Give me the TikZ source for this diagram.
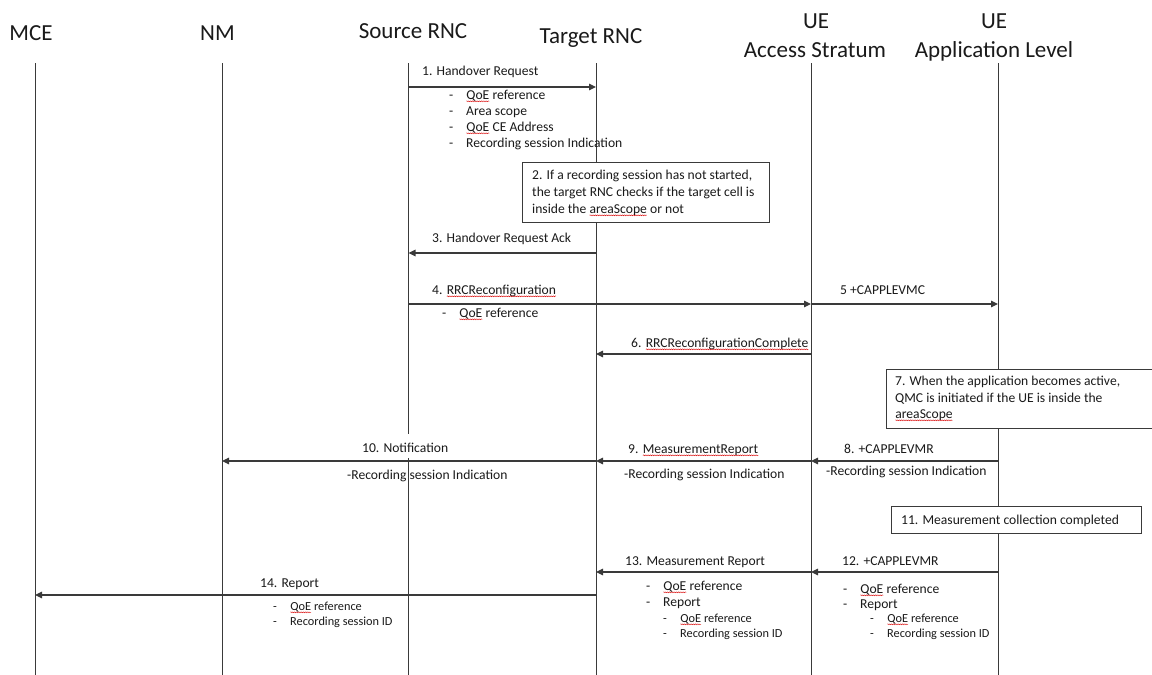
\documentclass[tikz,border=0pt]{standalone}
\usepackage{fontspec}
\setmainfont{Carlito}
\usetikzlibrary{arrows.meta,decorations.pathmorphing}
\definecolor{ln}{HTML}{3A3A3A}
\definecolor{tx}{HTML}{1A1A1A}
\newcommand\sq[1]{\tikz[baseline=(w.base)]{\node[inner sep=0pt,outer sep=0pt](w){#1};\draw[red!85!black,line width=0.35pt,decorate,decoration={snake,amplitude=0.5pt,segment length=1.8pt}]([yshift=-2.3pt]w.base west)--([yshift=-2.3pt]w.base east);}}
\tikzset{
 life/.style={draw=ln,line width=1pt},
 msg/.style={draw=ln,line width=1.2pt,-{Triangle[length=7pt,width=6.5pt]}},
 hdr/.style={font=\fontsize{23}{27}\selectfont,text=tx,inner sep=0pt,anchor=base},
 lbl/.style={font=\fontsize{13.6}{16}\selectfont,text=tx,inner sep=0pt,anchor=base west},
 sub/.style={font=\fontsize{12.3}{15}\selectfont,text=tx,inner sep=0pt,anchor=base west},
 note/.style={draw=ln,line width=1pt,fill=white,inner sep=0pt,anchor=north west},
}
\newcommand\bul[5]{\node[#1] (#2d) at (#3,#4) {-};\node[#1] (#2) at (#3+17,#4) {#5};}
\begin{document}
\begin{tikzpicture}[x=1pt,y=-1pt]
\useasboundingbox[fill=white] (0,0) rectangle (1152,675);
% lifelines
\coordinate (mce) at (35,63);
\coordinate (nm) at (222,63);
\coordinate (src) at (408.5,63);
\coordinate (tgt) at (596,63);
\coordinate (as) at (811,63);
\coordinate (app) at (998,63);
\coordinate (bot) at (0,675);
\foreach \l in {mce,nm,src,tgt,as,app}{\draw[life] (\l) -- (\l |- bot);}
% rows
\coordinate (r1) at (0,87);
\coordinate (r3) at (0,253);
\coordinate (r4) at (0,304);
\coordinate (r6) at (0,354);
\coordinate (r8) at (0,461);
\coordinate (r12) at (0,572);
\coordinate (r14) at (0,595);
% headers
\node[hdr] (hMCE) at (31,40) {MCE};
\node[hdr] (hNM) at (217.5,40) {NM};
\node[hdr] (hSrc) at (413,38) {Source RNC};
\node[hdr] (hTgt) at (591,43) {Target RNC};
\node[hdr] (hUE1) at (816,28) {UE};
\node[hdr] (hAS) at (815,57) {Access Stratum};
\node[hdr] (hUE2) at (994,28) {UE};
\node[hdr] (hAL) at (994,57) {Application Level};
% 1
\draw[msg] (src |- r1) -- (tgt |- r1);
\node[lbl] (l1) at (422,75) {1. Handover Request};
\bul{lbl}{b1a}{449}{99}{\sq{QoE} reference}
\bul{lbl}{b1b}{449}{115}{Area scope}
\bul{lbl}{b1c}{449}{131}{\sq{QoE} CE Address}
\bul{lbl}{b1d}{449}{147}{Recording session Indication}
% 2
\node[note,minimum width=247pt,minimum height=60pt] (box2) at (522,162) {};
\node[lbl] (t2a) at (532,179) {2. If a recording session has not started,};
\node[lbl] (t2b) at (532,196) {the target RNC checks if the target cell is};
\node[lbl] (t2c) at (532,213) {inside the \sq{areaScope} or not};
% 3
\draw[msg] (tgt |- r3) -- (src |- r3);
\node[lbl] (l3) at (432,242) {3. Handover Request Ack};
% 4, 5
\draw[msg] (src |- r4) -- (as |- r4);
\node[lbl] (l4) at (432,294) {4. \sq{RRCReconfiguration}};
\bul{lbl}{b4a}{442}{317}{\sq{QoE} reference}
\draw[msg] (as |- r4) -- (app |- r4);
\node[lbl] (l5) at (840,294) {5 +CAPPLEVMC};
% 6
\draw[msg] (as |- r6) -- (tgt |- r6);
\node[lbl] (l6) at (631,347) {6. \sq{RRCReconfigurationComplete}};
% 7
\node[note,minimum width=265.5pt,minimum height=59pt] (box7) at (886,369) {};
\node[lbl] (t7a) at (895,385) {7. When the application becomes active,};
\node[lbl] (t7b) at (895,402) {QMC is initiated if the UE is inside the};
\node[lbl] (t7c) at (895,418) {\sq{areaScope}};
% 8, 9, 10
\draw[msg] (app |- r8) -- (as |- r8);
\node[lbl] (l8) at (844,453) {8. +CAPPLEVMR};
\node[lbl] (l8b) at (826,475) {-Recording session Indication};
\draw[msg] (as |- r8) -- (tgt |- r8);
\node[lbl] (l9) at (628,453) {9. \sq{MeasurementReport}};
\node[lbl] (l9b) at (624,478) {-Recording session Indication};
\draw[msg] (tgt |- r8) -- (nm |- r8);
\node[lbl,fill=white,text height=18pt,text depth=6pt,inner xsep=4pt] (l10) at (358,452) {10. Notification};
\node[lbl] (l10b) at (347,479) {-Recording session Indication};
% 11
\node[note,minimum width=250pt,minimum height=27pt] (box11) at (891,506) {};
\node[lbl] (t11) at (901,524) {11. Measurement collection completed};
% 12
\draw[msg] (app |- r12) -- (as |- r12);
\node[lbl] (l12) at (842,565) {12. +CAPPLEVMR};
\bul{lbl}{b12a}{843}{593}{\sq{QoE} reference}
\bul{lbl}{b12b}{843}{608}{Report}
\bul{sub}{b12c}{870}{622}{\sq{QoE} reference}
\bul{sub}{b12d}{870}{637}{Recording session ID}
% 13
\draw[msg] (as |- r12) -- (tgt |- r12);
\node[lbl] (l13) at (625,565) {13. Measurement Report};
\bul{lbl}{b13a}{646}{590}{\sq{QoE} reference}
\bul{lbl}{b13b}{646}{606}{Report}
\bul{sub}{b13c}{663}{622}{\sq{QoE} reference}
\bul{sub}{b13d}{663}{637}{Recording session ID}
% 14
\draw[msg] (tgt |- r14) -- (mce |- r14);
\node[lbl] (l14) at (260,587) {14. Report};
\bul{sub}{b14a}{273}{610}{\sq{QoE} reference}
\bul{sub}{b14b}{273}{625}{Recording session ID}
\end{tikzpicture}
\end{document}
